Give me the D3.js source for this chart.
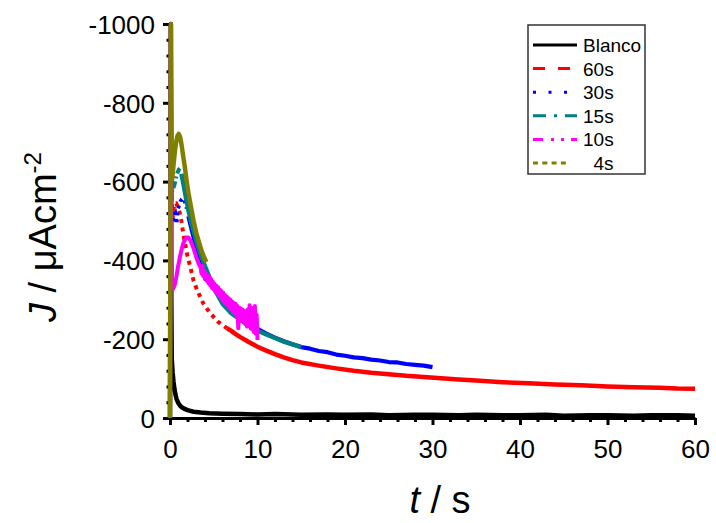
<!DOCTYPE html>
<html><head><meta charset="utf-8">
<script src="https://cdn.jsdelivr.net/npm/d3@7/dist/d3.min.js"></script>
<style>
html,body{margin:0;padding:0;background:#fff;}
text{font-family:"Liberation Sans",Arial,Helvetica,sans-serif;}
</style></head>
<body><svg id="chart" width="716" height="523"></svg>
<script>
// ---------- data ----------
const seriesNames = ["Blanco", "60s", "30s", "15s", "10s", "4s"];
const legendLabels = ["Blanco", "60s", "30s", "15s", "10s", "  4s"];
const xTicks = [0, 10, 20, 30, 40, 50, 60];
const yTicks = [0, -200, -400, -600, -800, -1000];

const tBlanco = [0, 0.1, 0.15, 0.2, 0.3, 0.4, 0.5, 0.6, 0.75, 0.95, 1.2, 1.5, 2, 2.7, 3.5, 4.5, 6, 8, 10, 12, 15, 18, 20, 23, 25, 28, 30, 33, 35, 38, 40, 43, 45, 48, 50, 53, 55, 58, 60];
const jBlanco = [0, -1000, -300, -150, -115, -92, -75, -62, -48, -38, -30, -25, -20, -16, -14, -12, -11, -10, -9, -10, -8, -9, -8, -9, -7, -8, -8, -7, -8, -7, -7, -8, -6, -7, -7, -6, -7, -7, -6];

const t60 = [0, 0.1, 0.15, 0.25, 0.4, 0.55, 0.7, 0.85, 1.0, 1.15, 1.3, 1.45, 1.6, 1.75, 1.9, 2.1, 2.3, 2.5, 2.7, 2.9, 3.1, 3.4, 3.8, 4.2, 4.6, 5.0, 5.5, 6, 6.5, 7, 7.5, 8, 9, 10, 11, 12, 13, 14, 15, 17, 19, 21, 23, 25, 27, 29, 31, 33, 35, 38, 41, 44, 47, 50, 53, 56, 58, 60];
const j60 = [0, -1000, -560, -500, -530, -545, -545, -538, -528, -518, -500, -478, -457, -440, -420, -402, -385, -366, -348, -336, -325, -310, -291, -278, -266, -256, -244, -236, -228, -221, -213, -206, -193, -181, -171, -162, -154, -147, -141, -133, -126, -120, -115, -111, -107, -104, -101, -98, -95, -91, -88, -85, -83, -80, -78, -77, -75, -74];

const t30 = [0, 0.1, 0.15, 0.3, 0.45, 0.6, 0.75, 0.9, 1.05, 1.2, 1.35, 1.5, 1.7, 1.9, 2.1, 2.4, 2.7, 3.0, 3.5, 4, 5, 6, 7, 8, 9, 10, 11, 12, 13, 14, 15, 16, 17, 18, 19, 20, 21, 22, 23, 24, 25, 26, 27, 28, 29, 30];
const j30 = [0, -1000, -560, -495, -515, -520, -492, -530, -540, -550, -555, -558, -548, -532, -512, -485, -458, -435, -405, -378, -332, -296, -272, -254, -239, -226, -214, -204, -195, -187, -180, -176, -170, -167, -161, -158, -154, -152, -148, -146, -142, -141, -137, -135, -133, -129];

const t15 = [0, 0.1, 0.15, 0.25, 0.4, 0.55, 0.7, 0.85, 1.0, 1.15, 1.3, 1.5, 1.8, 2.1, 2.5, 3, 3.5, 4, 5, 6, 7, 8, 9, 10, 11, 12, 13, 14, 15];
const j15 = [0, -1000, -680, -575, -585, -595, -610, -622, -630, -633, -620, -598, -562, -528, -490, -450, -415, -385, -330, -290, -266, -250, -236, -222, -212, -203, -194, -187, -180];

const t10 = [0, 0.1, 0.15, 0.25, 0.35, 0.5, 0.7, 0.9, 1.1, 1.3, 1.5, 1.7, 1.9, 2.1, 2.3, 2.5, 2.7, 2.9, 3.1, 3.3, 3.5, 3.6, 3.7, 3.8, 3.9, 4.0, 4.1, 4.2, 4.3, 4.4, 4.5, 4.6, 4.7, 4.8, 4.9, 5.0, 5.1, 5.2, 5.3, 5.4, 5.5, 5.6, 5.7, 5.8, 5.9, 6.0, 6.1, 6.2, 6.3, 6.4, 6.5, 6.6, 6.7, 6.8, 6.9, 7.0, 7.1, 7.2, 7.3, 7.4, 7.5, 7.6, 7.7, 7.8, 7.9, 8.0, 8.1, 8.2, 8.3, 8.4, 8.5, 8.6, 8.7, 8.8, 8.9, 9.0, 9.1, 9.2, 9.3, 9.4, 9.5, 9.6, 9.7, 9.8, 9.9, 10.0];
const j10 = [0, -1000, -420, -340, -328, -335, -355, -382, -405, -425, -442, -452, -458, -458, -452, -442, -430, -416, -402, -390, -382, -366, -386, -360, -374, -352, -368, -348, -362, -342, -357, -336, -352, -330, -346, -326, -340, -320, -336, -316, -332, -310, -326, -306, -322, -298, -318, -294, -312, -290, -308, -286, -304, -280, -300, -276, -296, -270, -292, -266, -290, -260, -284, -228, -280, -252, -278, -246, -275, -244, -272, -238, -270, -232, -276, -236, -286, -228, -280, -224, -268, -218, -284, -214, -262, -198];

const t4 = [0, 0.1, 0.15, 0.25, 0.4, 0.55, 0.7, 0.85, 1.0, 1.15, 1.3, 1.5, 1.7, 1.9, 2.1, 2.4, 2.7, 3.0, 3.3, 3.6, 3.9, 4.15];
const j4 = [0, -1000, -700, -606, -642, -675, -700, -716, -721, -714, -696, -666, -636, -602, -572, -535, -500, -470, -447, -425, -408, -396];

const seriesT = [tBlanco, t60, t30, t15, t10, t4];
const seriesJ = [jBlanco, j60, j30, j15, j10, j4];

// ---------- styles ----------
const colors = ["#000000", "#ff0000", "#0000ff", "#008080", "#ff00ff", "#808000"];
const legendDash = [null, "12,13", "3,12.5", "13,8,3,8", "10,8,3,7,3,7", "5,4.3"];
const plotDash = [null, "4,4.5", "3,4", "7,3,2,3", null, null];   // used for the early, steep part
const dashUntil = [0, 6.5, 2, 1.2, 0, 0];
const plotWidth = [4.5, 4.5, 4.2, 4.5, 4, 4.5];

const svg = d3.select("#chart");
const x = d3.scaleLinear().domain([0, 60]).range([170, 695]);
const y = d3.scaleLinear().domain([0, -1000]).range([418, 24]);

// axes
const axisG = svg.append("g");
const yMinor = d3.range(0, -1001, -40).filter(v => v % 200 !== 0);
const xMinor = d3.range(0, 61, 2).filter(v => v % 10 !== 0);

axisG.append("g").attr("transform", "translate(170,0)")
  .call(d3.axisLeft(y).tickValues(yMinor).tickSize(3.5).tickFormat(""))
  .call(g => g.select(".domain").remove());
axisG.append("g").attr("transform", "translate(0,418)")
  .call(d3.axisBottom(x).tickValues(xMinor).tickSize(4).tickFormat(""))
  .call(g => g.select(".domain").remove());

const yAx = axisG.append("g").attr("transform", "translate(170,0)")
  .call(d3.axisLeft(y).tickValues(yTicks).tickSize(7).tickSizeOuter(0).tickPadding(8).tickFormat(d => String(d)));
const xAx = axisG.append("g").attr("transform", "translate(0,418)")
  .call(d3.axisBottom(x).tickValues(xTicks).tickSize(7).tickSizeOuter(0).tickPadding(10).tickFormat(d => String(d)));

axisG.selectAll("path.domain").attr("stroke", "#000").attr("stroke-width", 3);
axisG.selectAll(".tick line").attr("stroke", "#000").attr("stroke-width", 3);
axisG.selectAll(".tick text").attr("fill", "#000").style("font-size", "26px")
  .style("font-family", '"Liberation Sans", Arial, sans-serif');
yAx.selectAll(".tick text").attr("dy", "0.36em");
xAx.selectAll(".tick text").attr("dy", "0.9em");

// curves
const plotG = svg.append("g");
seriesNames.forEach((name, i) => {
  const pts = seriesT[i].map((t, k) => [t, seriesJ[i][k]]);
  const line = d3.line().x(d => x(d[0])).y(d => y(d[1]));
  if (dashUntil[i] > 0) {
    const early = pts.filter(d => d[0] <= dashUntil[i] && d[0] >= 0.15);
    const late = pts.filter(d => d[0] >= dashUntil[i]);
    const spike = pts.filter(d => d[0] <= 0.15);
    plotG.append("path").attr("d", line(spike)).attr("fill", "none")
      .attr("stroke", colors[i]).attr("stroke-width", plotWidth[i] - 0.5);
    plotG.append("path").attr("d", line(early)).attr("fill", "none")
      .attr("stroke", colors[i]).attr("stroke-width", plotWidth[i] - 0.5)
      .attr("stroke-dasharray", plotDash[i]);
    plotG.append("path").attr("d", line(late)).attr("fill", "none")
      .attr("stroke", colors[i]).attr("stroke-width", plotWidth[i]).attr("stroke-linejoin", "round");
  } else {
    plotG.append("path").attr("d", line(pts)).attr("fill", "none")
      .attr("stroke", colors[i]).attr("stroke-width", plotWidth[i]).attr("stroke-linejoin", "round");
  }
});

// axis titles
svg.append("text").attr("transform", "translate(56,237) rotate(-90)")
  .attr("text-anchor", "middle").style("font-size", "38px").attr("fill", "#000")
  .call(t => {
    t.append("tspan").style("font-style", "italic").text("J");
    t.append("tspan").text(" / \u03bcAcm");
    t.append("tspan").attr("dy", "-15").style("font-size", "24px").text("-2");
  });
svg.append("text").attr("x", 440).attr("y", 513)
  .attr("text-anchor", "middle").style("font-size", "38px").attr("fill", "#000")
  .call(t => {
    t.append("tspan").style("font-style", "italic").text("t");
    t.append("tspan").text(" / s");
  });

// legend
const lg = svg.append("g");
lg.append("rect").attr("x", 528).attr("y", 25).attr("width", 117).attr("height", 149)
  .attr("fill", "#fff").attr("stroke", "#333").attr("stroke-width", 1.5);
seriesNames.forEach((name, i) => {
  const yy = 45 + i * 23.6;
  lg.append("line").attr("x1", 533).attr("x2", i === 5 ? 566 : 577).attr("y1", yy).attr("y2", yy)
    .attr("stroke", colors[i]).attr("stroke-width", 3)
    .attr("stroke-dasharray", legendDash[i]);
  lg.append("text").attr("x", 583).attr("y", yy + 7).style("font-size", "19px")
    .style("white-space", "pre").attr("xml:space", "preserve").attr("fill", "#000").text(legendLabels[i]);
});
</script>
</body></html>
